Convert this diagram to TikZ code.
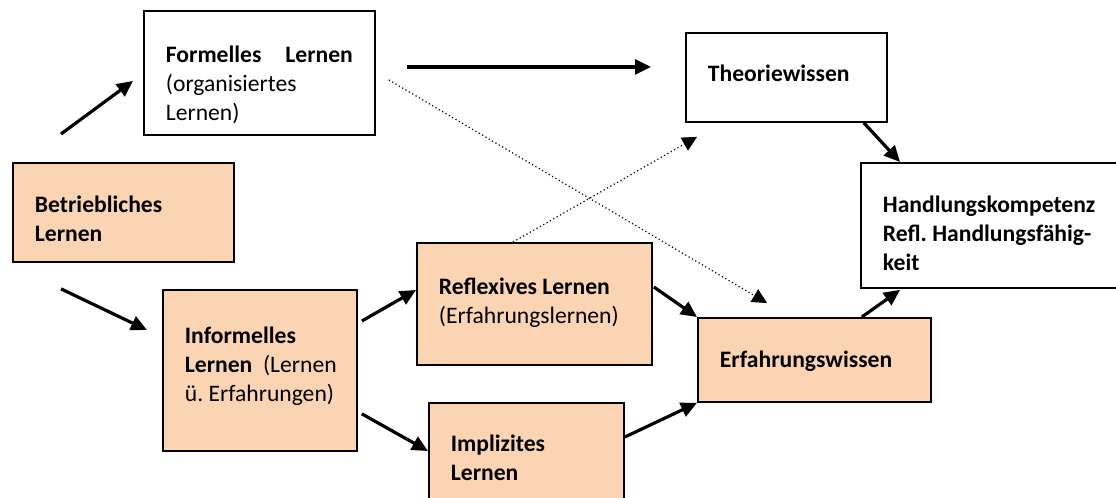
\documentclass[tikz,border=0pt]{standalone}
\usepackage{fontspec}
\setmainfont{Carlito}
\usetikzlibrary{arrows.meta}
\definecolor{peach}{HTML}{FBD4B4}

\begin{document}
\begin{tikzpicture}[x=0.75pt,y=-0.75pt]
\tikzstyle{box}=[draw, line width=1.4pt, anchor=north west, inner xsep=16.5pt, inner ysep=0pt, align=flush left, font=\fontsize{17.7pt}{21.75pt}\selectfont\frenchspacing]
\tikzstyle{warm}=[box, fill=peach]
\tikzstyle{arr}=[line width=2.4pt, -{Triangle[length=12pt,width=11pt]}]
\tikzstyle{dotarr}=[line width=0.9pt, dotted, -{Triangle[length=11pt,width=11pt]}]
\useasboundingbox (0,0) rectangle (1116,497);
\node[box, text width=140.25pt, text height=39pt, text depth=54pt] (formal) at (143,10) {\textbf{Formelles\hfill Lernen}\\(organisiertes\\Lernen)};
\node[warm, text width=132.75pt, text height=37.5pt, text depth=36.75pt] (firm) at (12,162) {\textbf{Betriebliches}\\\textbf{Lernen}};
\node[box, text width=117.75pt, text height=36.75pt, text depth=30pt] (theory) at (685,32) {\textbf{Theoriewissen}};
\node[box, text width=165.75pt, text height=37.5pt, text depth=56.25pt] (compet) at (860,162) {\textbf{Handlungskompetenz}\\\textbf{Refl. Handlungsfähig-}\\\textbf{keit}};
\node[warm, text width=141.75pt, text height=37.5pt, text depth=25.5pt] (expknow) at (697,317) {\textbf{Erfahrungswissen}};
\node[warm, text width=143.25pt, text height=39pt, text depth=52.5pt] (reflex) at (416,242) {\textbf{Reflexives Lernen}\\(Erfahrungslernen)};
\node[warm, text width=112.5pt, text height=40.5pt, text depth=80.25pt] (informal) at (162,289) {\textbf{Informelles}\\\mbox{\textbf{Lernen}\ \ (Lernen}\\ü. Erfahrungen)};
\node[warm, text width=113.25pt, text height=36.75pt, text depth=47.25pt] (implicit) at (428,402) {\textbf{Implizites}\\\textbf{Lernen}};
\draw[arr] ([shift={(49,-28)}]firm.north west) -- ([shift={(-10,8)}]formal.west);
\draw[arr] ([shift={(49,26)}]firm.south west) -- ([shift={(-15,41)}]informal.north west);
\draw[arr] ([shift={(31,-6)}]formal.east) -- ([shift={(-34,-10.5)}]theory.west);
\draw[dotarr] ([shift={(13,7)}]formal.east) -- ([shift={(70,-14)}]expknow.north west);
\draw[dotarr] ([shift={(97,0)}]reflex.north west) -- ([shift={(12,14)}]theory.south west);
\draw[arr] ([shift={(-24,0)}]theory.south east) -- ([shift={(40,0)}]compet.north west);
\draw[arr] ([shift={(-70,0)}]expknow.north east) -- ([shift={(40,1)}]compet.south west);
\draw[arr] ([shift={(4,32)}]informal.north east) -- ([shift={(0,48)}]reflex.north west);
\draw[arr] ([shift={(4,-38)}]informal.south east) -- ([shift={(0,49)}]implicit.north west);
\draw[arr] ([shift={(1,45)}]reflex.north east) -- (expknow.north west);
\draw[arr] ([shift={(0,35)}]implicit.north east) -- (expknow.south west);
\end{tikzpicture}
\end{document}
